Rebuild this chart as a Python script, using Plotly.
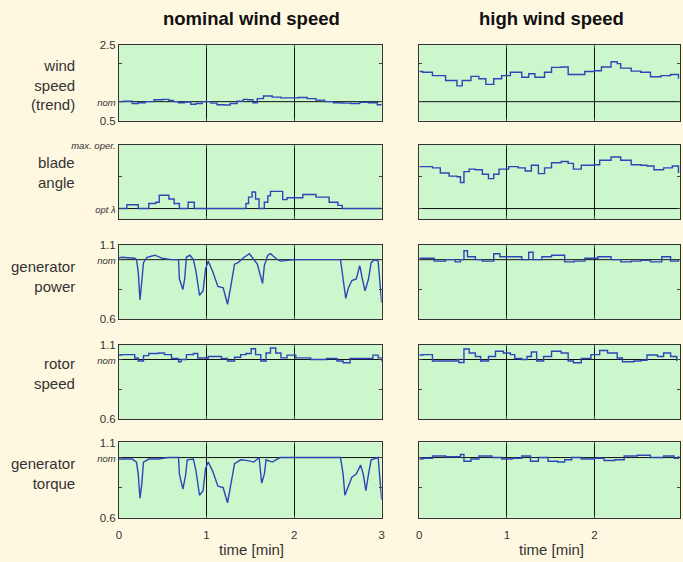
import plotly.graph_objects as go

# ---------------- data ----------------
t_wind_nom = [0.00, 0.05, 0.15, 0.22, 0.30, 0.40, 0.50, 0.57, 0.62, 0.68, 0.75, 0.82, 0.88, 0.95,
              1.05, 1.12, 1.20, 1.27, 1.35, 1.42, 1.47, 1.53, 1.58, 1.65, 1.75, 1.85, 1.95, 2.05,
              2.15, 2.25, 2.35, 2.45, 2.55, 2.65, 2.75, 2.85, 2.95, 3.00]
wind_nom = [1.00, 1.01, 0.95, 0.97, 1.00, 1.05, 1.06, 1.03, 1.00, 0.97, 0.99, 0.93, 0.95, 1.00,
            0.96, 0.92, 0.91, 0.95, 1.01, 1.06, 1.05, 0.97, 1.08, 1.15, 1.12, 1.10, 1.10, 1.11,
            1.08, 1.04, 1.00, 0.97, 0.96, 0.95, 0.98, 0.97, 0.92, 0.91]

t_wind_high = [0.00, 0.04, 0.15, 0.30, 0.43, 0.49, 0.59, 0.68, 0.76, 0.85, 0.94, 1.04, 1.17, 1.25,
               1.32, 1.43, 1.51, 1.62, 1.70, 1.81, 1.89, 2.00, 2.08, 2.19, 2.26, 2.30, 2.42, 2.53,
               2.64, 2.76, 2.87, 2.96]
wind_high = [1.80, 1.78, 1.69, 1.56, 1.42, 1.56, 1.67, 1.61, 1.46, 1.61, 1.69, 1.78, 1.65, 1.74,
             1.65, 1.78, 1.91, 1.92, 1.72, 1.72, 1.80, 1.82, 1.92, 2.06, 2.01, 1.89, 1.81, 1.78,
             1.66, 1.69, 1.72, 1.61]

t_blade_nom = [0.00, 0.09, 0.22, 0.34, 0.42, 0.46, 0.57, 0.63, 0.69, 0.79, 0.86, 1.45, 1.48, 1.52,
               1.56, 1.60, 1.66, 1.70, 1.73, 1.87, 1.92, 2.05, 2.10, 2.25, 2.40, 2.50, 2.55, 3.00]
blade_nom = [0.00, 0.06, 0.00, 0.08, 0.10, 0.21, 0.15, 0.08, 0.00, 0.10, 0.00, 0.08, 0.18, 0.26,
             0.15, 0.00, 0.10, 0.20, 0.27, 0.14, 0.17, 0.17, 0.22, 0.18, 0.10, 0.05, 0.00, 0.00]

t_blade_high = [0.00, 0.04, 0.15, 0.24, 0.34, 0.43, 0.47, 0.51, 0.57, 0.64, 0.72, 0.79, 0.85, 0.91,
                1.02, 1.13, 1.21, 1.28, 1.36, 1.43, 1.51, 1.62, 1.70, 1.76, 1.85, 2.00, 2.06, 2.19,
                2.30, 2.42, 2.53, 2.60, 2.68, 2.79, 2.89, 2.96]
blade_high = [0.66, 0.66, 0.64, 0.56, 0.51, 0.50, 0.41, 0.58, 0.62, 0.61, 0.54, 0.47, 0.54, 0.62,
              0.66, 0.64, 0.59, 0.68, 0.55, 0.64, 0.72, 0.74, 0.71, 0.62, 0.68, 0.69, 0.76, 0.81,
              0.76, 0.69, 0.68, 0.67, 0.61, 0.64, 0.67, 0.56]

t_power_nom = [0.00, 0.03, 0.18, 0.20, 0.22, 0.24, 0.26, 0.28, 0.32, 0.41, 0.49, 0.60, 0.68, 0.69,
               0.73, 0.75, 0.77, 0.81, 0.85, 0.88, 0.92, 0.96, 0.99, 1.02, 1.07, 1.13, 1.19, 1.24,
               1.28, 1.32, 1.36, 1.43, 1.49, 1.54, 1.58, 1.64, 1.66, 1.70, 1.73, 1.81, 1.85, 2.00,
               2.53, 2.56, 2.59, 2.62, 2.66, 2.71, 2.75, 2.78, 2.81, 2.85, 2.88, 2.92, 2.96, 2.98, 3.00]
power_nom = [1.01, 1.016, 1.01, 1.00, 0.92, 0.73, 0.85, 0.98, 1.016, 1.03, 1.01, 1.00, 1.00, 0.87,
             0.80, 0.87, 1.016, 1.03, 1.00, 0.92, 0.76, 0.79, 0.94, 0.99, 0.92, 0.82, 0.81, 0.70,
             0.83, 0.97, 0.98, 1.016, 1.04, 1.00, 0.97, 0.84, 0.96, 1.03, 1.04, 1.00, 0.99, 1.00,
             1.00, 0.87, 0.74, 0.81, 0.86, 0.87, 0.96, 0.87, 0.79, 0.87, 0.98, 1.00, 0.99, 0.85, 0.71]

t_power_high = [0.00, 0.04, 0.17, 0.30, 0.41, 0.47, 0.51, 0.55, 0.64, 0.72, 0.85, 0.92, 1.02, 1.17,
                1.25, 1.30, 1.40, 1.51, 1.66, 1.77, 1.89, 2.04, 2.19, 2.30, 2.42, 2.53, 2.64, 2.77,
                2.87, 2.96]
power_high = [1.01, 1.01, 0.99, 1.00, 0.985, 1.00, 1.06, 1.02, 1.00, 0.99, 1.04, 1.02, 1.02, 1.00,
              1.05, 1.00, 1.02, 1.03, 0.985, 0.99, 1.01, 1.02, 1.00, 0.985, 0.99, 0.995, 0.985, 1.02,
              0.99, 1.00]

t_rotor_nom = [0.00, 0.03, 0.13, 0.18, 0.22, 0.28, 0.34, 0.45, 0.52, 0.60, 0.68, 0.71, 0.77, 0.85,
               0.90, 1.02, 1.17, 1.24, 1.32, 1.39, 1.45, 1.51, 1.56, 1.62, 1.68, 1.73, 1.79, 1.85,
               1.92, 2.02, 2.19, 2.37, 2.49, 2.56, 2.64, 2.79, 2.90, 2.96, 3.00]
rotor_nom = [1.03, 1.033, 1.033, 1.01, 0.99, 1.026, 1.04, 1.044, 1.033, 1.007, 0.985, 1.00, 1.033, 1.04,
             1.01, 1.02, 1.007, 0.99, 1.015, 1.033, 1.04, 1.072, 1.033, 0.99, 1.044, 1.077, 1.044, 1.011,
             1.029, 1.011, 1.00, 1.007, 0.99, 0.978, 1.007, 1.007, 1.029, 1.011, 0.985]

t_rotor_high = [0.00, 0.04, 0.15, 0.30, 0.43, 0.45, 0.51, 0.57, 0.64, 0.70, 0.79, 0.87, 0.96, 1.04,
                1.09, 1.17, 1.23, 1.28, 1.34, 1.42, 1.51, 1.62, 1.70, 1.76, 1.85, 1.96, 2.06, 2.15,
                2.26, 2.32, 2.45, 2.53, 2.60, 2.72, 2.79, 2.87, 2.94]
rotor_high = [1.03, 1.033, 0.99, 0.99, 1.00, 0.98, 1.07, 1.044, 1.02, 0.99, 1.02, 1.055, 1.044, 1.033,
              1.007, 1.00, 1.02, 1.05, 0.99, 1.02, 1.055, 1.044, 0.99, 0.978, 1.007, 1.033, 1.06, 1.044,
              1.01, 0.985, 0.99, 0.995, 1.03, 1.02, 1.044, 1.02, 0.99]

t_torque_nom = [0.00, 0.03, 0.15, 0.20, 0.22, 0.24, 0.26, 0.28, 0.34, 0.45, 0.56, 0.68, 0.69, 0.73,
                0.76, 0.78, 0.85, 0.88, 0.92, 0.96, 0.99, 1.02, 1.07, 1.13, 1.19, 1.24, 1.28, 1.32,
                1.39, 1.47, 1.54, 1.60, 1.63, 1.66, 1.68, 1.75, 1.84, 2.00, 2.53, 2.56, 2.58, 2.62,
                2.66, 2.71, 2.76, 2.79, 2.82, 2.85, 2.88, 2.96, 2.98, 3.00]
torque_nom = [0.99, 0.99, 0.99, 0.97, 0.89, 0.73, 0.82, 0.97, 0.99, 0.99, 1.00, 1.00, 0.89, 0.79,
              0.88, 0.985, 0.99, 0.91, 0.75, 0.78, 0.93, 0.97, 0.91, 0.81, 0.80, 0.70, 0.82, 0.96,
              0.985, 0.98, 0.97, 1.00, 0.83, 0.89, 0.985, 0.97, 1.00, 1.00, 1.00, 0.89, 0.75, 0.81,
              0.87, 0.89, 0.95, 0.89, 0.78, 0.89, 0.985, 1.00, 0.87, 0.72]

t_torque_high = [0.00, 0.04, 0.15, 0.30, 0.47, 0.51, 0.59, 0.68, 0.83, 0.94, 1.06, 1.17, 1.27, 1.36,
                 1.47, 1.58, 1.66, 1.74, 1.85, 2.00, 2.11, 2.23, 2.34, 2.49, 2.64, 2.79, 2.91, 2.96]
torque_high = [0.99, 0.995, 1.01, 1.005, 1.02, 0.975, 0.99, 1.01, 1.00, 0.99, 0.995, 1.01, 0.975, 1.00,
               0.975, 0.97, 0.985, 1.00, 0.99, 0.995, 0.98, 0.985, 1.01, 1.015, 1.00, 1.01, 0.995, 1.01]

col_titles = ["nominal wind speed", "high wind speed"]
row_labels = ["wind<br>speed<br>(trend)", "blade<br>angle", "generator<br>power", "rotor<br>speed",
              "generator<br>torque"]
x_ticks = [0, 1, 2, 3]
x_ticktext = ["0", "1", "2", "3"]
x_title = "time [min]"

NOM = "<i><span style='font-size:9.5px'>nom</span></i>"
row_y = [
    dict(rng=[0.5, 2.5], vals=[0.5, 1.0, 2.0, 2.5], text=["0.5", NOM, "", "2.5"], ref=1.0),
    dict(rng=[-0.17, 1.0], vals=[0.0, 0.5, 1.0],
         text=["<i><span style='font-size:9.5px'>opt λ</span></i>", "",
               "<i><span style='font-size:9.5px'>max. oper.</span></i>"], ref=0.0),
    dict(rng=[0.6, 1.1], vals=[0.6, 0.8, 1.0, 1.1], text=["0.6", "", NOM, "1.1"], ref=1.0),
    dict(rng=[0.6, 1.1], vals=[0.6, 0.8, 1.0, 1.1], text=["0.6", "", NOM, "1.1"], ref=1.0),
    dict(rng=[0.6, 1.1], vals=[0.6, 0.8, 1.0, 1.1], text=["0.6", "", NOM, "1.1"], ref=1.0),
]

series = [
    [(t_wind_nom, wind_nom), (t_wind_high, wind_high)],
    [(t_blade_nom, blade_nom), (t_blade_high, blade_high)],
    [(t_power_nom, power_nom), (t_power_high, power_high)],
    [(t_rotor_nom, rotor_nom), (t_rotor_high, rotor_high)],
    [(t_torque_nom, torque_nom), (t_torque_high, torque_high)],
]
# step drawing for the slowly-varying signals, straight segments for the sharp power/torque dips
line_shapes = [["hv", "hv"], ["hv", "hv"], ["linear", "hv"], ["hv", "hv"], ["linear", "hv"]]

# ---------------- layout geometry ----------------
W, H = 683, 562
col_px = [(117, 382), (420, 683)]
row_px = [(40, 117), (142, 218), (244, 320), (346, 422), (446, 523)]
label_cy = [81, 170, 276, 376, 478]
px_per_min = (382 - 117) / 3.0

BG = "#FFF8E1"
PLOT_BG = "#CCF7CC"
LINE = "#2C46B8"
FONT = "Liberation Sans, Arial, sans-serif"

fig = go.Figure()
layout = dict(width=W, height=H, margin=dict(l=0, r=0, t=0, b=0), paper_bgcolor=BG,
              plot_bgcolor=PLOT_BG, showlegend=False, font=dict(family=FONT, color="#333", size=11))
shapes = []
annotations = []

for r in range(5):
    for c in range(2):
        idx = r * 2 + c + 1
        xs = "" if idx == 1 else str(idx)
        t, v = series[r][c]
        fig.add_trace(go.Scatter(x=t, y=v, mode="lines", xaxis="x" + xs, yaxis="y" + xs,
                                 line=dict(color=LINE, width=1.4, shape=line_shapes[r][c]),
                                 hoverinfo="skip"))
        x0, x1 = col_px[c]
        y0, y1 = row_px[r]
        xmax = (x1 - x0) / px_per_min
        layout["xaxis" + xs] = dict(
            domain=[x0 / W, x1 / W], range=[0, xmax], anchor="y" + xs,
            tickvals=x_ticks, ticktext=x_ticktext, showticklabels=(r == 4),
            ticks="inside", ticklen=3, tickcolor="#444", mirror="allticks",
            ticklabelstandoff=6,
            showline=True, linecolor="#333", linewidth=1,
            showgrid=True, gridcolor="#111", gridwidth=1, zeroline=False,
            tickfont=dict(size=11.5, color="#333"), fixedrange=True)
        ry = row_y[r]
        layout["yaxis" + xs] = dict(
            domain=[1 - y1 / H, 1 - y0 / H], range=ry["rng"], anchor="x" + xs,
            tickvals=ry["vals"], ticktext=ry["text"], showticklabels=(c == 0),
            ticks="inside", ticklen=3, tickcolor="#444", mirror="allticks",
            showline=True, linecolor="#333", linewidth=1,
            showgrid=False, zeroline=False, tickfont=dict(size=11.5, color="#333"),
            fixedrange=True)
        shapes.append(dict(type="line", xref="x" + xs + " domain", yref="y" + xs,
                           x0=0, x1=1, y0=ry["ref"], y1=ry["ref"],
                           line=dict(color="#111", width=1), layer="below"))

for r in range(5):
    annotations.append(dict(text=row_labels[r], x=75 / W, y=1 - label_cy[r] / H, xref="paper",
                            yref="paper", xanchor="right", yanchor="middle", align="right",
                            showarrow=False, font=dict(size=15, color="#333", family=FONT)))
for c in range(2):
    cx = (col_px[c][0] + (col_px[c][0] + 3 * px_per_min)) / 2 + 1
    annotations.append(dict(text="<b>" + col_titles[c] + "</b>", x=cx / W, y=1 - 13 / H,
                            xref="paper", yref="paper", xanchor="center", yanchor="middle",
                            showarrow=False, font=dict(size=18.5, color="#111", family=FONT)))
    annotations.append(dict(text=x_title, x=cx / W, y=1 - 555 / H, xref="paper", yref="paper",
                            xanchor="center", yanchor="middle", showarrow=False,
                            font=dict(size=15, color="#333", family=FONT)))

layout["shapes"] = shapes
layout["annotations"] = annotations
fig.update_layout(**layout)
fig.write_html("out.html", config={"displayModeBar": False},
               post_script="document.body.style.margin='0';document.body.style.overflow='hidden';"
                           "document.body.style.background='" + BG + "';")
